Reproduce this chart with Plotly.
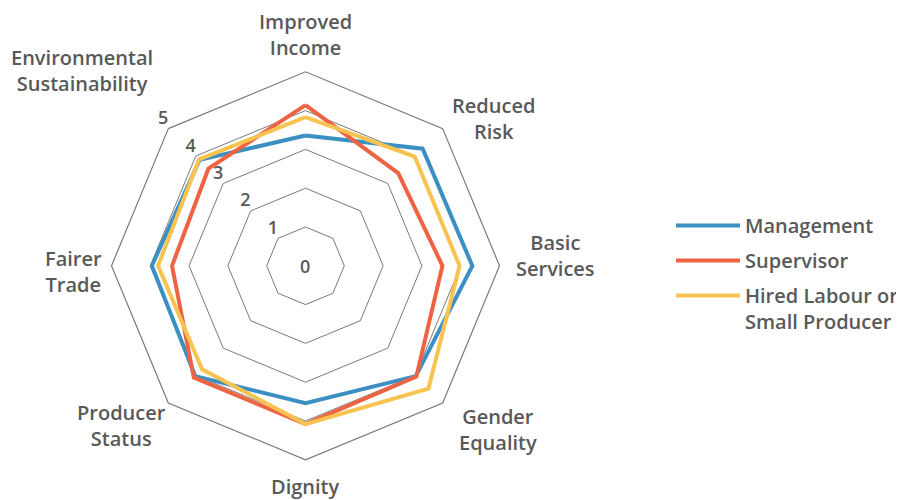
import plotly.graph_objects as go

categories = ["Improved<br>Income", "Reduced<br>Risk", "Basic<br>Services", "Gender<br>Equality",
              "Dignity", "Producer<br>Status", "Fairer<br>Trade", "Environmental<br>Sustainability"]
management = [3.36, 4.27, 4.3, 4.02, 3.54, 4.02, 3.96, 3.86]
supervisor = [4.14, 3.38, 3.53, 4.04, 4.08, 4.07, 3.44, 3.54]
hired = [3.83, 3.98, 3.97, 4.48, 4.08, 3.77, 3.8, 3.88]
series_names = ["Management", "Supervisor", "Hired Labour or<br>Small Producer"]
radial_ticks = [0, 1, 2, 3, 4, 5]

colors = ["#3b8fc3", "#ee6443", "#f8c350"]
grey = "#595959"
grid = "#7a7a7a"
font_family = "Open Sans"

# page has an 8px body margin; figure is sized so that it fills the 904x500 window
OFF = 8
W, H = 904 - OFF, 500 - OFF


def px(x):
    return (x - OFF) / W


def py(y):
    return 1 - (y - OFF) / H


fig = go.Figure()
for i, (name, vals, col) in enumerate(zip(series_names, [management, supervisor, hired], colors)):
    fig.add_trace(go.Scatterpolar(
        r=vals + vals[:1],
        theta=categories + categories[:1],
        mode="lines",
        name=name,
        legendgroup=f"g{i}",
        line=dict(color=col, width=4),
        hoverinfo="skip",
    ))

# radial tick labels along the upper-left spoke (the centre "0" is added as an annotation)
nonzero_ticks = [t for t in radial_ticks if t != 0]
fig.add_trace(go.Scatterpolar(
    r=nonzero_ticks, theta=[categories[-1]] * len(nonzero_ticks),
    mode="text", text=[str(t) for t in nonzero_ticks],
    textposition="top left",
    textfont=dict(size=18, color=grey, family=font_family, weight=600),
    cliponaxis=False,
    showlegend=False, hoverinfo="skip",
))

CX, CY = 305.5, 265.8  # polar centre in screen px
fig.add_annotation(
    x=px(CX - 1), y=py(CY), xref="paper", yref="paper", text=str(radial_ticks[0]), showarrow=False,
    xanchor="center", yanchor="middle",
    font=dict(size=18, color=grey, family=font_family, weight=600),
)

# category label placement (screen px centres)
label_centres = [(305.5, 34.5), (493.3, 118), (555.6, 255.5), (497.5, 429.5),
                 (305.5, 486), (121.5, 425.8), (73.5, 271.3), (82, 70.5)]
for cat, (cx, cy) in zip(categories, label_centres):
    fig.add_annotation(
        x=px(cx), y=py(cy), xref="paper", yref="paper", text=cat, showarrow=False,
        xanchor="center", yanchor="middle", align="center",
        font=dict(size=20, color=grey, family=font_family, weight=600),
    )

fig.update_layout(
    width=W, height=H,
    margin=dict(l=0, r=0, t=0, b=0),
    paper_bgcolor="white",
    plot_bgcolor="white",
    font=dict(family=font_family, size=20, color=grey, weight=600),
    polar=dict(
        domain=dict(x=[px(111.5), px(499.5)], y=[py(459.8), py(71.8)]),
        gridshape="linear",
        bgcolor="white",
        radialaxis=dict(
            range=[0, 5], tickvals=radial_ticks, showticklabels=False,
            angle=135, showline=False, ticks="",
            gridcolor=grid, gridwidth=1.2,
        ),
        angularaxis=dict(
            direction="clockwise", rotation=90,
            showgrid=False, showline=True, linecolor=grid, linewidth=1.2,
            ticks="", showticklabels=False,
        ),
    ),
    legend=dict(
        x=px(671), y=py(206), xanchor="left", yanchor="top",
        font=dict(size=20, color=grey, family=font_family, weight=600),
        tracegroupgap=6,
        itemwidth=64,
        valign="top",
    ),
    showlegend=True,
)

fig.write_html("out.html")
